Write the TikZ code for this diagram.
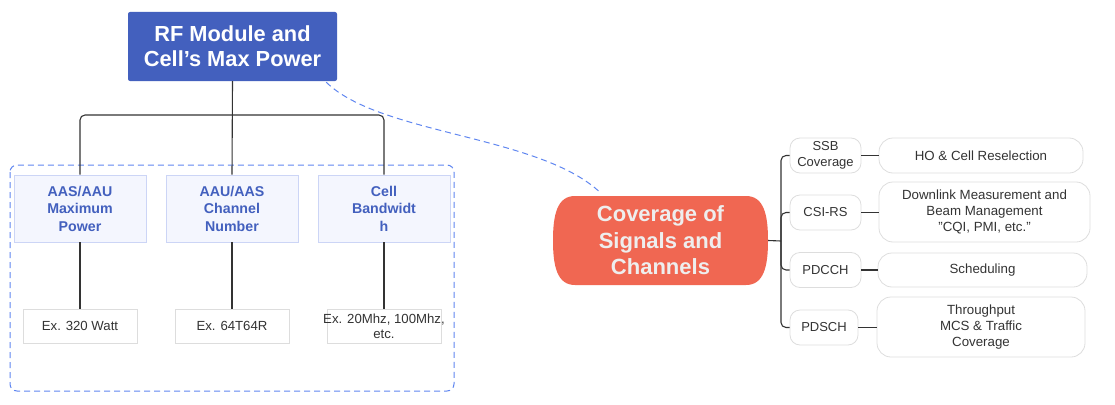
\documentclass[tikz,border=0pt]{standalone}
\usepackage{fontspec}
\setmainfont{Liberation Sans}
\usetikzlibrary{calc}
\definecolor{rfblue}{HTML}{4360BE}
\definecolor{dashblue}{HTML}{5F86F0}
\definecolor{boxfill}{HTML}{F4F6FE}
\definecolor{boxline}{HTML}{CCD5F6}
\definecolor{covred}{HTML}{F06752}
\definecolor{grayline}{HTML}{DDDDDD}
\definecolor{txtgray}{HTML}{333333}
\definecolor{covtext}{HTML}{EEEEEE}
\tikzset{
  conn/.style={draw=txtgray, line width=1.1pt},
  topbox/.style={fill=rfblue, rounded corners=2pt, minimum width=209pt, minimum height=69pt, align=center, text=white, font=\fontsize{21.8}{25}\selectfont\bfseries, inner sep=0pt},
  catbox/.style={fill=boxfill, draw=boxline, line width=0.8pt, minimum width=132pt, minimum height=67pt, align=center, text=rfblue, font=\fontsize{14.2}{17.5}\selectfont\bfseries, inner sep=0pt},
  exbox/.style={draw=grayline, line width=0.8pt, minimum width=114pt, minimum height=34pt, align=center, text=txtgray, font=\fontsize{13.2}{15}\selectfont, inner sep=0pt},
  sigbox/.style={draw=grayline, line width=0.8pt, rounded corners=10pt, minimum width=71pt, minimum height=35pt, align=center, text=txtgray, font=\fontsize{13}{16}\selectfont, inner sep=0pt},
  usebox/.style={draw=grayline, line width=0.8pt, rounded corners=14pt, align=center, text=txtgray, font=\fontsize{13.3}{16}\selectfont, inner sep=0pt},
  grpbox/.style={draw=dashblue, dash pattern=on 6pt off 4pt, line width=1pt, rounded corners=7pt},
  link/.style={draw=dashblue, line width=1pt, dash pattern=on 6pt off 4pt},
}
\begin{document}
\begin{tikzpicture}[x=1pt,y=-1pt]
\useasboundingbox (0,0) rectangle (1115,404);

% group container
\draw[grpbox] (10,165) rectangle (454,391);

% top node
\node[topbox] (top) at (232.5,46.5) {RF Module and\\Cell’s Max Power};

% categories
\node[catbox] (b1) at (80,208.5) {AAS/AAU\\Maximum\\Power};
\node[catbox] (b2) at (232,208.5) {AAU/AAS\\Channel\\Number};
\node[catbox] (b3) at (384,208.5) {Cell\\Bandwidt\\h};

% examples
\node[exbox] (e1) at (80,326) {Ex. 320 Watt};
\node[exbox] (e2) at (232,326) {Ex. 64T64R};
\node[exbox, inner xsep=-4pt] (e3) at (384,326) {Ex. 20Mhz, 100Mhz,\\etc.};

\coordinate (j) at (232,115);
\draw[conn] (top.south) -- (b2.north);
\draw[conn, rounded corners=5pt] (b1.north) |- (j) -| (b3.north);
\draw[conn] (b1.south) -- (e1.north);
\draw[conn] (b2.south) -- (e2.north);
\draw[conn] (b3.south) -- (e3.north);

% coverage node
\fill[covred] (575,196) -- (746,196)
  .. controls (764,196) and (768,215) .. (768,240.5)
  .. controls (768,266) and (764,285) .. (746,285)
  -- (575,285)
  .. controls (557,285) and (553,266) .. (553,240.5)
  .. controls (553,215) and (557,196) .. (575,196) -- cycle;
\node[minimum width=215pt, minimum height=89pt, inner sep=0pt, align=center, text=covtext, font=\fontsize{22}{26.5}\selectfont\bfseries] (cov) at (660.5,240.5) {Coverage of\\Signals and\\Channels};

% dashed relation
\draw[link] ($(top.south east)+(-11,1)$) .. controls (380,135) and (540,135) .. ($(cov.north)+(-60,-3)$);

% signal nodes
\node[sigbox] (s1) at (825.5,155.5) {SSB\\Coverage};
\node[sigbox] (s2) at (825.5,212.5) {CSI-RS};
\node[sigbox] (s3) at (825.5,270) {PDCCH};
\node[sigbox, minimum width=68pt] (s4) at (824,327.5) {PDSCH};

\coordinate (k) at (781,241);
\draw[conn] (cov.east) -- (k);
\draw[conn, rounded corners=5pt] (s1.west) -| (k) |- (s4.west);
\draw[conn, rounded corners=5pt] (k) |- (s2.west);
\draw[conn, rounded corners=5pt] (k) |- (s3.west);

% usage nodes
\node[usebox, minimum width=204pt, minimum height=35pt] (u1) at (981,155.5) {HO \& Cell Reselection};
\node[usebox, minimum width=211pt, minimum height=60pt] (u2) at (984.5,212) {Downlink Measurement and\\Beam Management\\"CQI, PMI, etc."};
\node[usebox, minimum width=209pt, minimum height=34pt] (u3) at (982.5,270) {Scheduling};
\node[usebox, minimum width=208pt, minimum height=60pt] (u4) at (981,327) {Throughput\\MCS \& Traffic\\Coverage};

\draw[conn] (s1.east) -- (u1.west |- s1.east);
\draw[conn] (s2.east) -- (u2.west |- s2.east);
\draw[conn] (s3.east) -- (u3.west |- s3.east);
\draw[conn] (s4.east) -- (u4.west |- s4.east);
\end{tikzpicture}
\end{document}
